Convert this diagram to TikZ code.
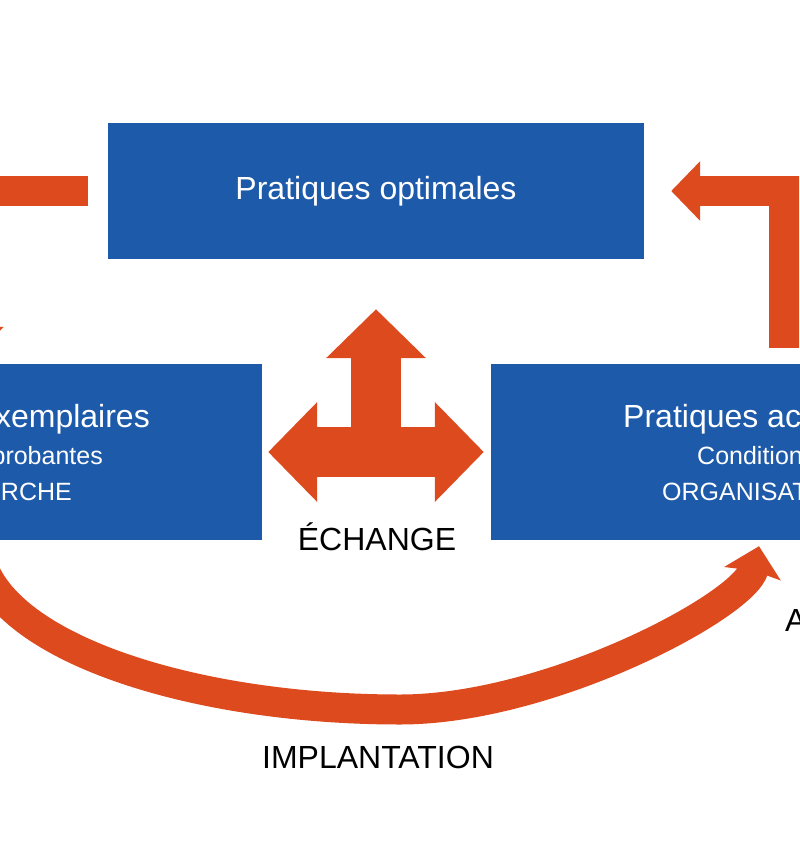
\documentclass[tikz,border=0pt]{standalone}
\usepackage{fontspec}
\setmainfont{Liberation Sans}
\usetikzlibrary{positioning,arrows.meta}
\definecolor{boxblue}{HTML}{1E5AAA}
\definecolor{flow}{HTML}{DC4A1E}

\begin{document}
\begin{tikzpicture}[x=1pt,y=-1pt,
  box/.style={fill=boxblue, minimum width=536pt, inner sep=0pt},
  mainlabel/.style={font=\fontsize{32}{38}\selectfont, inner sep=0pt},
  sublabel/.style={font=\fontsize{25}{30}\selectfont, inner sep=0pt, text=white},
  blockarrow/.style={flow, line width=30pt, line join=miter,
    -{Triangle[length=29pt,width=58pt]}},
  exchange/.style={flow, line width=50pt,
    {Triangle[length=49pt,width=97pt]}-{Triangle[length=49pt,width=97pt]}},
]
  \useasboundingbox (0,0) rectangle (800,843);
  \clip (0,0) rectangle (800,843);

  % the three boxes
  \node[box, minimum height=136pt, mainlabel, text=white] (optimal) at (376,191) {Pratiques optimales};
  \node[box, minimum height=176pt] (exemplary) at (-6,452) {};
  \node[box, minimum height=176pt] (current) at (759,452) {};

  % texts of the side boxes
  \node[mainlabel, text=white, anchor=base east] (exemplarytitle) at (150,427) {xemplaires};
  \node[sublabel, anchor=base east] (exemplarysub) at (103,464) {probantes};
  \node[sublabel, anchor=base east] (exemplaryorg) at (72,500) {RCHE};
  \node[mainlabel, text=white, anchor=base west] (currenttitle) at (623,427) {Pratiques ac};
  \node[sublabel, anchor=base west] (currentsub) at (697,464) {Condition};
  \node[sublabel, anchor=base west] (currentorg) at (662,500) {ORGANISAT};

  % feedback arrows on top
  \draw[blockarrow] ([xshift=-20pt]optimal.west) -| ([xshift=-20pt,yshift=8pt]exemplary.north);
  \draw[blockarrow] ([xshift=25pt,yshift=16pt]current.north) |- ([xshift=27pt]optimal.east);

  % exchange arrow
  \draw[exchange] ([xshift=6pt]exemplary.east) -- ([xshift=-7pt]current.west);
  \draw[flow, line width=50pt, -{Triangle[length=49pt,width=97pt]}]
    (optimal.south |- exemplary.east) -- ([yshift=-50pt]optimal.south);
  \node[mainlabel, anchor=base] (exchangelabel) at (377,550) {ÉCHANGE};

  % implantation arrow
  \draw[flow, line width=30pt, -{Stealth[length=28pt,width=57pt,inset=3pt]}]
    ([xshift=-16pt]exemplary.south) .. controls (-22,640) and (180,709.5) .. (400,709.5)
    .. controls (550,709.5) and (745,605) .. ([yshift=-6pt]current.south);
  \node[mainlabel, anchor=base] (implantlabel) at (378,768) {IMPLANTATION};
  \node[mainlabel, anchor=base west] (adaptlabel) at (785,631) {A};
\end{tikzpicture}
\end{document}
